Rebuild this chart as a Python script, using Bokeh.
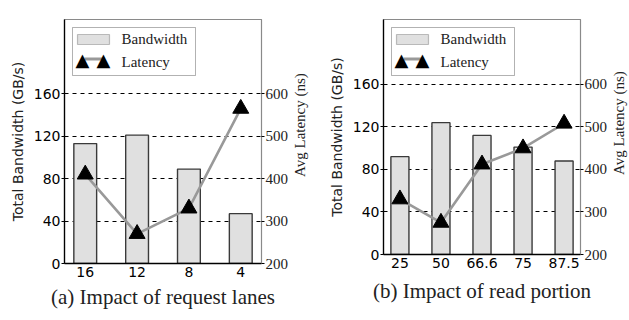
from bokeh.plotting import figure
from bokeh.models import (Range1d, LinearAxis, FixedTicker, BoxAnnotation, Label, Title, Div)
from bokeh.layouts import row
from bokeh.embed import file_html
from bokeh.resources import INLINE

# ---- data ----
lane_labels = ["16", "12", "8", "4"]
lane_bandwidth = [113, 121, 89, 47]
lane_latency = [410, 270, 330, 565]

portion_labels = ["25", "50", "66.6", "75", "87.5"]
portion_bandwidth = [92, 124, 112, 101, 88]
portion_latency = [330, 275, 412, 450, 508]

bw_ticks = [0, 40, 80, 120, 160]
lat_ticks = [200, 300, 400, 500, 600]

SANS = "DejaVu Sans"
SERIF = "Liberation Serif"
TXT = "#222222"


def box(l, r, t, b, **kw):
    return BoxAnnotation(left=l, right=r, top=t, bottom=b, left_units="screen", right_units="screen",
                         top_units="screen", bottom_units="screen", fill_alpha=1, **kw)


def panel(labels, bw, lat, caption, bw_max, fw, fh, bl, br, bt, bb, cap_standoff):
    n = len(labels)
    xs = list(range(n))
    p = figure(frame_width=fw, frame_height=fh, output_backend="svg", toolbar_location=None,
               x_range=Range1d(-0.4, n - 0.6), y_range=Range1d(0, bw_max),
               min_border_left=bl, min_border_right=br, min_border_top=bt, min_border_bottom=bb,
               background_fill_color="white", border_fill_color="white")
    p.extra_y_ranges = {"lat": Range1d(200, 200 + bw_max * 2.5)}
    p.outline_line_color = "#8a8a8a"
    p.outline_line_width = 1.2
    p.xgrid.visible = False
    p.ygrid.ticker = FixedTicker(ticks=bw_ticks[1:])
    p.ygrid.grid_line_color = "black"
    p.ygrid.grid_line_dash = "4 4"
    p.ygrid.grid_line_width = 1

    p.vbar(x=xs, top=bw, width=0.44, fill_color="#e0e0e0", line_color="#3a3a3a", line_width=1.4)
    p.line(x=xs, y=lat, y_range_name="lat", line_color="#999999", line_width=2.6)
    p.scatter(x=xs, y=lat, y_range_name="lat", marker="triangle", size=16,
              fill_color="black", line_color="black")

    xa = p.xaxis[0]
    xa.ticker = FixedTicker(ticks=xs)
    xa.major_label_overrides = {i: s for i, s in enumerate(labels)}
    xa.major_tick_out = 0
    xa.major_tick_in = 0
    xa.minor_tick_line_color = None
    xa.major_label_standoff = 3
    xa.major_label_text_font = SANS
    xa.major_label_text_font_size = "14px"
    xa.major_label_text_color = "black"
    xa.axis_line_color = "black"
    xa.axis_line_width = 1.3

    ya = p.yaxis[0]
    ya.ticker = FixedTicker(ticks=bw_ticks)
    ya.major_tick_out = 3
    ya.major_tick_in = 0
    ya.minor_tick_line_color = None
    ya.major_label_standoff = 1
    ya.major_label_text_font = SANS
    ya.major_label_text_font_size = "14px"
    ya.major_label_text_color = "black"
    ya.axis_label = "Total Bandwidth (GB/s)"
    ya.axis_label_text_font = SANS
    ya.axis_label_text_font_style = "normal"
    ya.axis_label_text_font_size = "14px"
    ya.axis_label_text_color = TXT
    ya.axis_label_standoff = 5
    ya.axis_line_color = "black"
    ya.axis_line_width = 1.3

    ra = LinearAxis(y_range_name="lat", ticker=FixedTicker(ticks=lat_ticks))
    ra.major_tick_out = 3
    ra.major_tick_in = 0
    ra.minor_tick_line_color = None
    ra.major_label_standoff = 1
    ra.major_label_text_font = SERIF
    ra.major_label_text_font_size = "15px"
    ra.major_label_text_color = TXT
    ra.axis_line_color = "#8a8a8a"
    p.add_layout(ra, "right")

    # legend (drawn by hand to show the two-triangle latency key)
    lx, ltop = 8, fh - 8
    p.add_layout(box(lx, lx + 123, ltop, ltop - 48, fill_color="white", line_color="black", line_width=1))
    p.add_layout(box(lx + 5, lx + 37, ltop - 7, ltop - 17, fill_color="#e0e0e0",
                     line_color="#3a3a3a", line_width=1.2))
    p.add_layout(box(lx + 12, lx + 32, ltop - 30, ltop - 33, fill_color="#999999", line_color=None))
    for dx in (3, 24):
        p.add_layout(Label(x=lx + dx, y=ltop - 42, x_units="screen", y_units="screen", text="\u25B2",
                           text_font=SANS, text_font_size="18px", text_color="black"))
    p.add_layout(Label(x=lx + 49, y=ltop - 19, x_units="screen", y_units="screen", text="Bandwidth",
                       text_font=SERIF, text_font_size="15px", text_color=TXT))
    p.add_layout(Label(x=lx + 49, y=ltop - 42, x_units="screen", y_units="screen", text="Latency",
                       text_font=SERIF, text_font_size="15px", text_color=TXT))

    # caption
    p.add_layout(Title(text=caption, align="center", text_font=SERIF, text_font_size="21px",
                       text_font_style="normal", text_color=TXT, standoff=cap_standoff), "below")
    return p


def right_label(h):
    # right-axis title, reading bottom-to-top like the reference
    html = ('<div style="writing-mode:vertical-rl; transform:rotate(180deg); width:18px; '
            'height:%dpx; line-height:18px; text-align:center; '
            'font-family:Liberation Serif,Times New Roman,serif; font-style:normal; '
            'font-size:15px; color:%s; white-space:nowrap;">Avg Latency (ns)</div>' % (h, TXT))
    return Div(text=html, width=18, height=h, margin=0,
               styles={"font-family": "Liberation Serif, serif", "font-size": "15px"})


p1 = panel(lane_labels, lane_bandwidth, lane_latency, "(a) Impact of request lanes",
           230, 197, 244, 64, 30, 15, 61, 7)
p2 = panel(portion_labels, portion_bandwidth, portion_latency, "(b) Impact of read portion",
           221, 197, 235, 74, 28, 19, 66, 12)

layout = row(p1, right_label(250), p2, right_label(246))
open("out.html", "w").write(file_html(layout, INLINE))
